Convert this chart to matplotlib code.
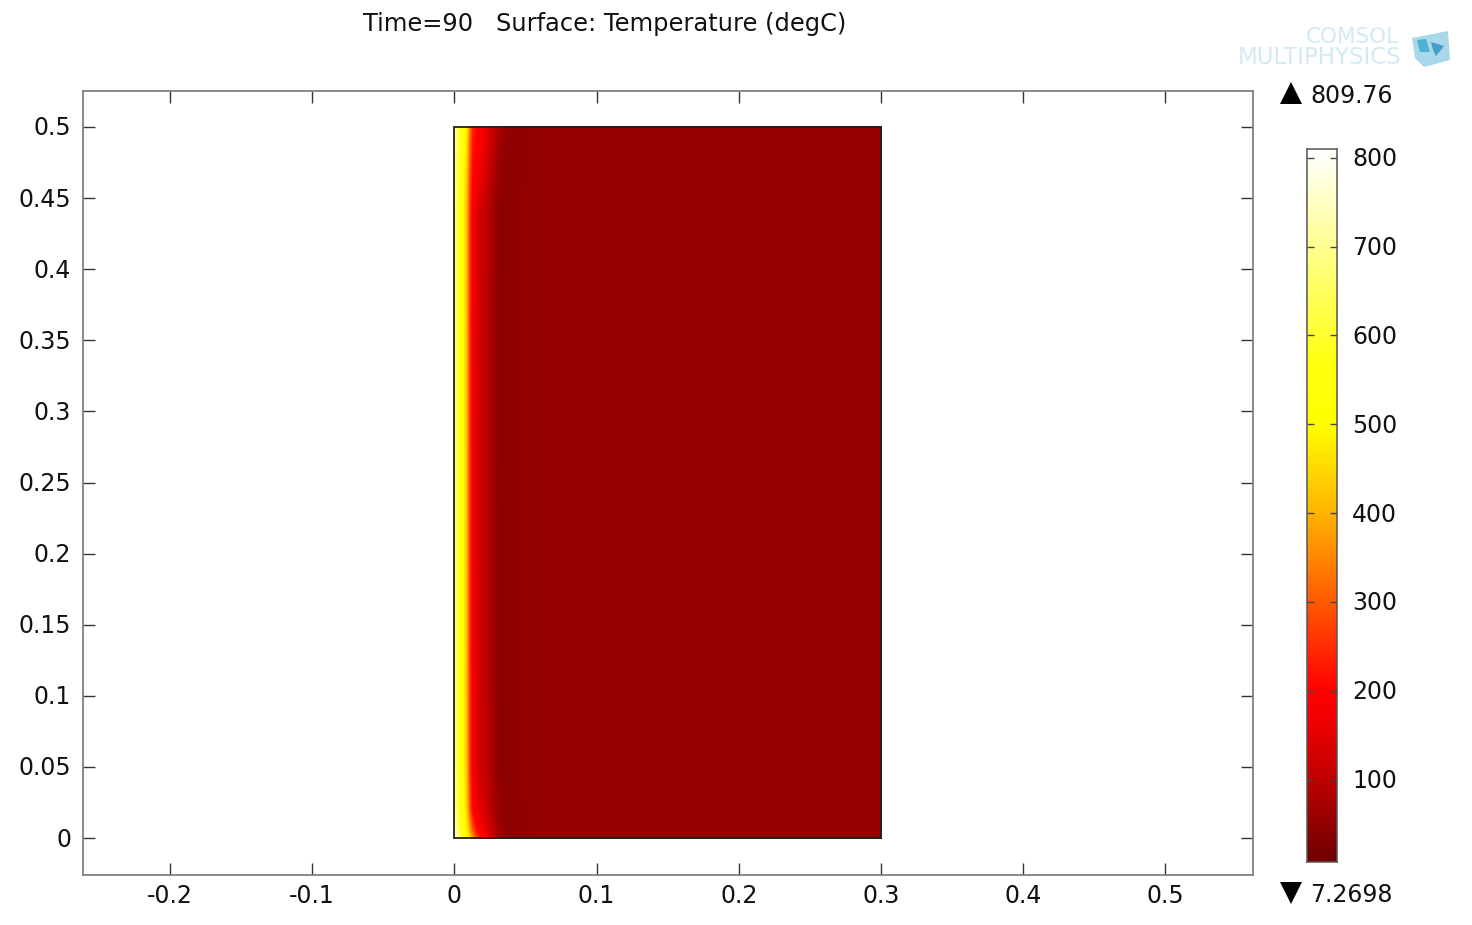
import numpy as np
import matplotlib
matplotlib.use("Agg")
import matplotlib.pyplot as plt
from matplotlib.colors import LinearSegmentedColormap, Normalize
from matplotlib.lines import Line2D
from matplotlib.patches import Polygon, Rectangle
from matplotlib.transforms import ScaledTranslation

plt.rcParams['font.family'] = ['DejaVu Sans']

# ---- data ----
title = "Time=90   Surface: Temperature (degC)"
x_ticks = [-0.2, -0.1, 0, 0.1, 0.2, 0.3, 0.4, 0.5]
x_labels = ["-0.2", "-0.1", "0", "0.1", "0.2", "0.3", "0.4", "0.5"]
y_ticks = [0, 0.05, 0.1, 0.15, 0.2, 0.25, 0.3, 0.35, 0.4, 0.45, 0.5]
y_labels = ["0", "0.05", "0.1", "0.15", "0.2", "0.25", "0.3", "0.35", "0.4", "0.45", "0.5"]
cbar_ticks = [100, 200, 300, 400, 500, 600, 700, 800]
t_min = 7.2698
t_max = 809.76

grid_x = [0.0, 0.002, 0.005, 0.008, 0.010, 0.012, 0.015, 0.020, 0.025, 0.030, 0.036, 0.045, 0.060, 0.300]
grid_y = [0.0, 0.006, 0.02, 0.05, 0.25, 0.44, 0.465, 0.49, 0.5]
temps = [
    [780, 690, 560, 500, 450, 360, 260, 185, 120, 72, 44, 46, 52, 52],
    [720, 650, 540, 470, 380, 290, 210, 160, 110, 66, 42, 46, 52, 52],
    [670, 620, 525, 430, 300, 200, 165, 130, 90, 54, 40, 46, 52, 52],
    [645, 610, 520, 405, 265, 175, 140, 110, 78, 46, 39, 48, 52, 52],
    [640, 610, 520, 400, 260, 170, 135, 105, 75, 44, 40, 49, 52, 52],
    [645, 610, 520, 405, 265, 175, 140, 110, 78, 46, 40, 48, 52, 52],
    [655, 615, 525, 420, 290, 205, 175, 140, 90, 52, 40, 46, 52, 52],
    [680, 630, 535, 450, 320, 225, 200, 165, 115, 70, 46, 46, 52, 52],
    [700, 640, 540, 470, 340, 240, 205, 170, 120, 78, 50, 46, 52, 52],
]

ramp_values = [t_min, 100, 170, 200, 300, 400, 500, 570, 700, t_max]
ramp_colors = ["#6e0000", "#c00000", "#f50000", "#ff0000", "#ff5a00", "#ffb400",
               "#ffff00", "#ffff10", "#ffff90", "#ffffff"]

# ---- figure ----
W, H = 1472, 925
fig = plt.figure(figsize=(W / 100, H / 100), dpi=100)

def px_axes(l, t, r, b):
    return fig.add_axes([l / W, 1 - b / H, (r - l) / W, (b - t) / H])

norm = Normalize(t_min, t_max)
cmap = LinearSegmentedColormap.from_list(
    "thermal", [((v - t_min) / (t_max - t_min), c) for v, c in zip(ramp_values, ramp_colors)], N=512)

FS = 17.0
up_1px = ScaledTranslation(0, 1 / 100, fig.dpi_scale_trans)
ax = px_axes(83, 91, 1253, 875)
ax.set_xlim(-0.2612, 0.5616)
ax.set_ylim(-0.0260, 0.5253)
levels = np.linspace(t_min, t_max, 400)
cs = ax.contourf(grid_x, grid_y, temps, levels=levels, cmap=cmap, norm=norm, antialiased=False)
cs.set_edgecolor("face")
ax.add_patch(Rectangle((0, 0), 0.3, 0.5, fill=False, ec="#222222", lw=1.3, zorder=5))
ax.set_xticks(x_ticks, x_labels)
ax.set_yticks(y_ticks, y_labels)
ax.tick_params(direction="in", length=8.5, width=1.0, color="#333333", labelsize=FS,
               top=True, right=True, labelcolor="#111111")
ax.tick_params(axis="y", pad=8.6)
ax.tick_params(axis="x", pad=6.2)
for lab in ax.get_yticklabels():
    lab.set_transform(lab.get_transform() + up_1px)
for s in ax.spines.values():
    s.set_color("#808080")
    s.set_linewidth(1.3)

fig.text(604.5 / W, 1 - 24 / H, title, ha="center", va="center", fontsize=17.35, color="#111111")

# colour bar
cax = px_axes(1307, 149, 1337, 862)
bar_values = np.linspace(t_min, t_max, 600)[:, None]
cax.imshow(bar_values, origin="lower", aspect="auto", cmap=cmap, norm=norm,
           extent=[0, 1, t_min, t_max], interpolation="bilinear")
cax.set_xticks([])
cax.yaxis.tick_right()
cax.set_yticks(cbar_ticks, [str(v) for v in cbar_ticks])
cax.tick_params(axis="y", direction="in", length=5, width=1.0, color="#444444",
                left=True, right=True, labelsize=FS, pad=11, labelcolor="#111111")
for lab in cax.get_yticklabels():
    lab.set_transform(lab.get_transform() + up_1px)
for s in cax.spines.values():
    s.set_color("#555555")
    s.set_linewidth(1.1)

# extreme markers
fig.add_artist(Line2D([1291 / W], [1 - 93 / H], marker="^", ms=16, color="black", mew=0, ls="none"))
fig.add_artist(Line2D([1291 / W], [1 - 893 / H], marker="v", ms=16, color="black", mew=0, ls="none"))
fig.text(1310 / W, 1 - 96 / H, f"{t_max:.2f}", va="center", ha="left", fontsize=FS, color="#111111")
fig.text(1310 / W, 1 - 895 / H, f"{t_min:.4f}", va="center", ha="left", fontsize=FS, color="#111111")

# logo
logo = "#d3e9f3"
fig.text(1399 / W, 1 - 37 / H, "COMSOL", ha="right", va="center", fontsize=15.5, color=logo)
fig.text(1401 / W, 1 - 58 / H, "MULTIPHYSICS", ha="right", va="center", fontsize=16.5, color=logo)
def px(pts):
    return [(a / W, 1 - b / H) for a, b in pts]
fig.add_artist(Polygon(px([(1412, 38), (1448, 31), (1450, 60), (1424, 67), (1415, 58)]),
                       closed=True, fc="#a8d8ea", ec="none", transform=fig.transFigure))
fig.add_artist(Polygon(px([(1417, 40), (1426, 39), (1430, 52), (1420, 52)]),
                       closed=True, fc="#4fb0d6", ec="none", transform=fig.transFigure))
fig.add_artist(Polygon(px([(1431, 42), (1444, 46), (1436, 56), (1433, 50)]),
                       closed=True, fc="#3f9fc8", ec="none", transform=fig.transFigure))

fig.savefig("out.png", dpi=100, facecolor="white")
